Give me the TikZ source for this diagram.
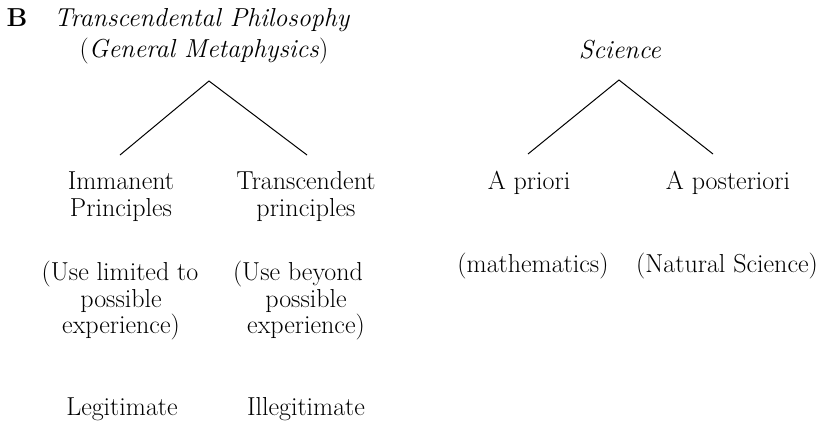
\documentclass[tikz,border=0pt]{standalone}
\begin{document}
\begin{tikzpicture}[x=1pt,y=-1pt,
  txt/.style={inner sep=0pt,anchor=base,font=\fontsize{26}{29}\selectfont},
  branch/.style={line width=1pt}]
\useasboundingbox (0,0) rectangle (830,424);
% left tree
\node[txt] (B) at (17,26) {\textbf{B}};
\node[txt] (tp1) at (202,26) {\textit{Transcendental Philosophy}};
\node[txt] (tp2) at (204,57) {(\textit{General Metaphysics})};
\coordinate (la) at (209,81);
\coordinate (ll) at (120,155);
\coordinate (lr) at (307,155);
\draw[branch] (ll) -- (la) -- (lr);
\node[txt] (imm1) at (121,189) {Immanent};
\node[txt] (imm2) at (121,216) {Principles};
\node[txt] (tra1) at (306,189) {Transcendent};
\node[txt] (tra2) at (306,216) {principles};
\node[txt] (ua1) at (120,280) {(Use limited to};
\node[txt] (ua2) at (121,307) {possible};
\node[txt] (ua3) at (121,333) {experience)};
\node[txt] (ub1) at (298,280) {(Use beyond};
\node[txt] (ub2) at (306,307) {possible};
\node[txt] (ub3) at (306,333) {experience)};
\node[txt] (leg) at (122,415) {Legitimate};
\node[txt] (ill) at (306,415) {Illegitimate};
% right tree
\node[txt] (sci) at (620,58) {\textit{Science}};
\coordinate (ra) at (619,80);
\coordinate (rl) at (528,154);
\coordinate (rr) at (713,154);
\draw[branch] (rl) -- (ra) -- (rr);
\node[txt] (apr) at (529,189) {A priori};
\node[txt] (apo) at (728,189) {A posteriori};
\node[txt] (mat) at (533,272) {(mathematics)};
\node[txt] (nat) at (727,272) {(Natural Science)};
\end{tikzpicture}
\end{document}
